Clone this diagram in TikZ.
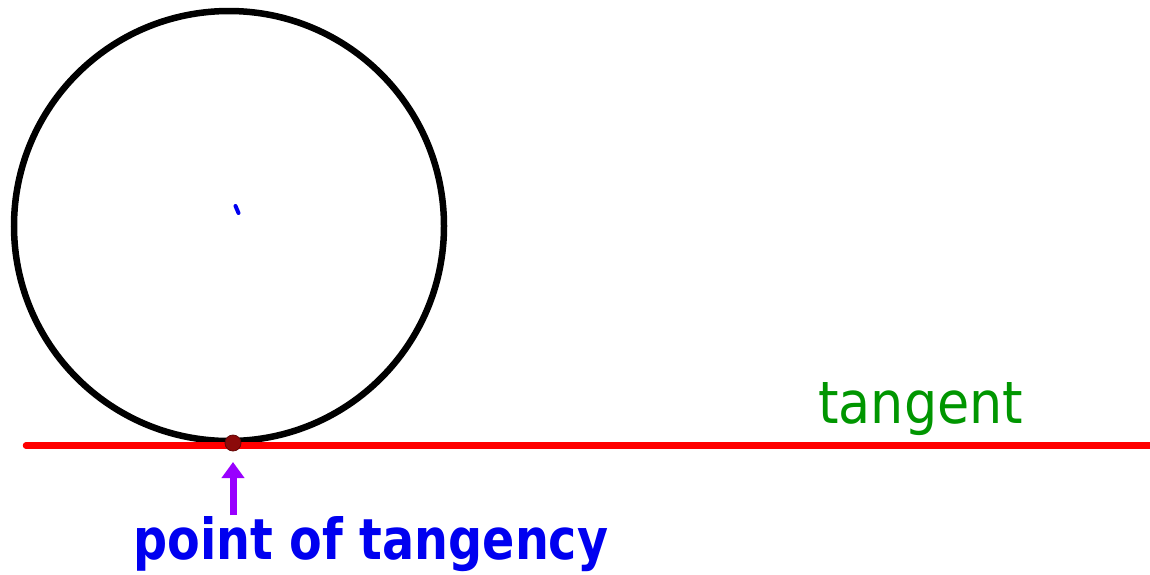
\documentclass[tikz,border=0pt]{standalone}
\usepackage{fontspec}
\usepackage{graphicx}
\setmainfont{DejaVu Sans}
\usetikzlibrary{arrows.meta}
\definecolor{tanred}{RGB}{255,0,0}
\definecolor{dotred}{RGB}{140,10,10}
\definecolor{arrowpurple}{RGB}{153,0,255}
\definecolor{labelblue}{RGB}{0,0,240}
\definecolor{labelgreen}{RGB}{0,150,0}
\tikzset{
  circleline/.style={line width=6.5pt, draw=black},
  tangentline/.style={line width=6.5pt, draw=tanred, line cap=round},
  tangdot/.style={circle, fill=dotred, draw=dotred!70!black, line width=0.8pt, minimum size=16pt, inner sep=0pt},
  pointer/.style={line width=7pt, draw=arrowpurple, -{Triangle[length=16pt,width=22pt]}},
  lbl/.style={inner sep=0pt, anchor=base west}
}
\begin{document}
\begin{tikzpicture}[x=1pt,y=-1pt]
\useasboundingbox (0,0) rectangle (1150,574);
\fill[white] (0,0) rectangle (1150,574);
\node[circle, minimum size=430pt, inner sep=0pt, circleline] (circ) at (229,226) {};
\coordinate (lineL) at (26,445.5);
\coordinate (lineR) at (1152,445.5);
\draw[tangentline] (lineL) -- (lineR);
\node[tangdot] (pt) at (233,443) {};
\coordinate (ctr) at (229,226);
\draw[labelblue, line width=4pt, line cap=round] (235.5,206) -- (238.5,213);
\node[lbl] (ptlabel) at (133,559) {\color{labelblue}\resizebox{475pt}{43pt}{\bfseries point of tangency}};
\coordinate (arrowtail) at (233,515);
\coordinate (arrowtip) at (233,462);
\draw[pointer] (arrowtail) -- (arrowtip);
\node[lbl] (tlabel) at (818,423) {\color{labelgreen}\resizebox{205pt}{41pt}{tangent}};
\end{tikzpicture}
\end{document}
